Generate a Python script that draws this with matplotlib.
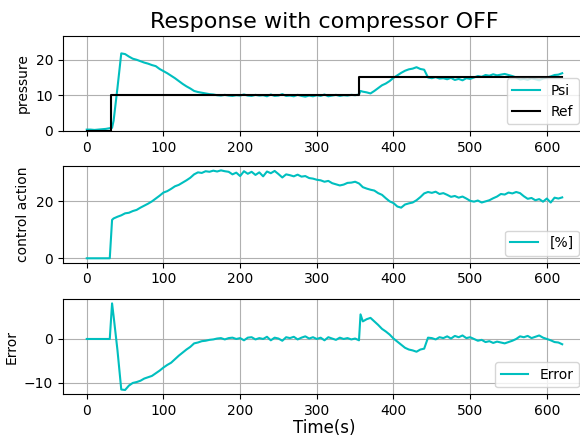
import matplotlib
matplotlib.use('Agg')
import matplotlib.pyplot as plt

# sample times (s)
time = list(range(0, 31, 5)) + [33] + list(range(35, 351, 5)) + [355, 357] + list(range(360, 621, 5))

# reference pressure (steps)
ref_time = [0, 32, 32, 355, 355, 620]
ref = [0, 0, 10, 10, 15, 15]

psi = [0.3, 0.3, 0.2, 0.3, 0.4, 0.5, 0.7, 0.8, 2.8, 12.0,
       21.8, 21.6, 20.9, 20.3, 20.0, 19.6, 19.2, 18.9, 18.5, 18.2,
       17.4, 16.8, 16.2, 15.5, 14.8, 14.0, 13.2, 12.5, 11.9, 11.2,
       10.9, 10.7, 10.5, 10.3, 10.2, 10.0, 9.9, 10.1, 9.9, 9.8,
       10.0, 9.9, 10.2, 9.9, 9.8, 10.1, 9.9, 10.0, 9.7, 10.2,
       9.8, 9.9, 10.3, 9.8, 9.9, 9.7, 10.1, 9.8, 9.6, 9.9,
       9.7, 10.0, 9.8, 10.2, 9.7, 9.9, 10.1, 9.8, 10.0, 9.9,
       10.1, 10.0, 10.2, 11.2, 11.0, 10.8, 10.5, 11.2, 12.0, 12.8,
       13.3, 14.0, 14.9, 15.6, 16.3, 16.9, 17.3, 17.5, 17.9, 17.4,
       17.2, 15.0, 14.8, 15.1, 14.7, 14.8, 14.5, 14.9, 14.3, 14.6,
       14.2, 14.8, 14.6, 15.0, 15.4, 15.2, 15.7, 15.5, 15.9, 15.6,
       15.8, 16.0, 15.7, 15.4, 15.0, 14.4, 14.6, 14.3, 14.8, 14.5,
       14.2, 14.7, 15.0, 15.3, 15.7, 15.8, 16.2]

control = [0, 0, 0, 0, 0, 0, 0, 13.5, 14.0, 14.6,
           15.1, 15.8, 16.0, 16.6, 17.0, 17.8, 18.5, 19.2, 20.0, 21.0,
           22.0, 23.1, 23.6, 24.4, 25.3, 25.8, 26.6, 27.4, 28.3, 29.5,
           30.2, 30.0, 30.6, 30.4, 30.8, 30.5, 30.9, 30.6, 30.4, 29.5,
           30.1, 28.9, 30.6, 29.7, 30.4, 29.3, 30.2, 28.8, 30.5, 29.9,
           30.7, 29.6, 28.4, 29.5, 29.2, 28.8, 29.4, 28.7, 28.9, 28.2,
           28.0, 27.6, 27.4, 26.9, 27.2, 26.4, 26.0, 25.6, 25.9, 26.5,
           26.6, 26.9, 26.3, 25.8, 25.0, 24.5, 24.1, 23.8, 22.9, 22.3,
           21.1, 20.0, 19.4, 18.2, 17.8, 18.9, 19.3, 19.6, 20.4, 21.5,
           22.8, 23.3, 23.0, 23.4, 22.6, 22.9, 22.3, 21.6, 21.9, 21.3,
           21.7, 21.0, 20.2, 19.9, 20.3, 19.6, 20.0, 20.4, 21.1, 21.7,
           22.6, 22.4, 23.1, 22.8, 23.3, 22.9, 21.8, 20.9, 21.2, 20.4,
           20.8, 19.9, 21.0, 19.6, 21.3, 21.0, 21.4]

error = [0, 0, 0, 0, 0, 0, 0, 8.1, 5.2, -2.5,
         -11.5, -11.6, -10.6, -10.0, -9.8, -9.5, -9.0, -8.7, -8.4, -7.8,
         -7.2, -6.5, -5.9, -5.4, -4.6, -3.8, -3.1, -2.4, -1.8, -1.0,
         -0.8, -0.5, -0.4, -0.2, -0.1, 0.1, 0.2, -0.1, 0.2, 0.3,
         0.0, 0.2, -0.3, 0.3, 0.4, -0.1, 0.2, 0.0, 0.5, -0.3,
         0.3, 0.1, -0.4, 0.4, 0.2, 0.5, -0.1, 0.3, 0.6, 0.1,
         0.4, 0.0, 0.3, -0.3, 0.4, 0.1, -0.2, 0.3, 0.0, 0.2,
         -0.1, 0.1, -0.3, 5.6, 4.0, 4.5, 4.8, 4.0, 3.2, 2.3,
         1.7, 1.0, 0.1, -0.6, -1.3, -2.0, -2.4, -2.6, -2.9, -2.4,
         -2.2, 0.3, 0.2, -0.1, 0.4, 0.2, 0.6, 0.1, 0.7, 0.4,
         0.8, 0.2, 0.4, 0.0, -0.4, -0.2, -0.7, -0.5, -0.9, -0.6,
         -0.8, -1.0, -0.7, -0.4, 0.0, 0.6, 0.4, 0.7, 0.2, 0.5,
         0.8, 0.3, 0.0, -0.3, -0.7, -0.8, -1.2]

fig = plt.figure(figsize=(5.8, 4.37), dpi=100)
ax1 = fig.add_axes([0.1086, 0.7002, 0.9017, 0.2174])
ax2 = fig.add_axes([0.1086, 0.3989, 0.9017, 0.2213])
ax3 = fig.add_axes([0.1086, 0.0977, 0.9017, 0.2180])

ax1.plot(time, psi, color='c', label='Psi')
ax1.plot(ref_time, ref, color='k', label='Ref')
ax1.set_ylim(-0.1, 26.7)
ax1.set_ylabel('pressure')
ax1.set_title('Response with compressor OFF', fontsize=16)
ax1.legend(loc='lower right')

ax2.plot(time, control, color='c', label='[%]')
ax2.set_ylabel('control action')
ax2.legend(loc='lower right')

ax3.plot(time, error, color='c', label='Error')
ax3.set_ylabel('Error')
ax3.set_xlabel('Time(s)', fontsize=12, labelpad=1)
ax3.legend(loc='lower right')

for ax in (ax1, ax2, ax3):
    ax.grid(True)
    ax.set_xlim(-31, 651)

fig.savefig('out.png', dpi=100)
